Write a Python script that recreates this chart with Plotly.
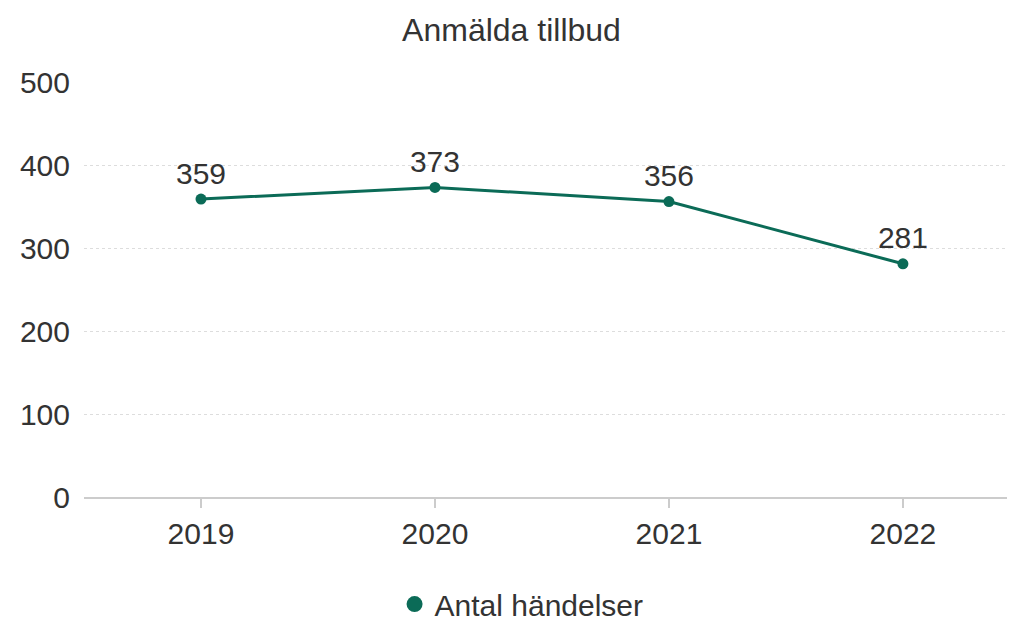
import plotly.graph_objects as go

years = ["2019", "2020", "2021", "2022"]
values = [359, 373, 356, 281]
series_name = "Antal händelser"
title = "Anmälda tillbud"
y_ticks = [0, 100, 200, 300, 400, 500]

green = "#0b6b57"
font = "Liberation Sans, Arial, sans-serif"
fs = 30

fig = go.Figure()
fig.add_trace(go.Scatter(
    x=list(range(len(years))), y=values, name=series_name,
    mode="lines+markers+text", showlegend=False,
    line=dict(color=green, width=3),
    marker=dict(color=green, size=11),
    text=[str(v) for v in values], textposition="top center",
    textfont=dict(size=fs, color="#333333", family=font),
    cliponaxis=False,
))
# legend entry (marker only)
fig.add_trace(go.Scatter(
    x=[None], y=[None], name=series_name, mode="markers",
    marker=dict(color=green, size=16), showlegend=True,
))

fig.update_layout(
    width=1007, height=617,
    margin=dict(l=76, r=0, t=74, b=128, autoexpand=False),
    paper_bgcolor="white", plot_bgcolor="white",
    font=dict(family=font, color="#333333", size=fs),
    title=dict(text=title, x=0.5, xanchor="center", y=1 - 22 / 617, yanchor="middle",
               font=dict(size=32, color="#333333"), automargin=False),
    showlegend=True,
    legend=dict(orientation="h", x=0.47, xanchor="center", y=-0.258, yanchor="middle",
                font=dict(size=fs, color="#333333"), itemsizing="trace"),
    xaxis=dict(
        tickmode="array", tickvals=list(range(len(years))), ticktext=years,
        range=[-0.5, 3.479], showgrid=False, zeroline=False,
        showline=True, linecolor="#cccccc", linewidth=1.5,
        ticks="outside", ticklen=9, tickcolor="#cccccc", tickwidth=1.5,
        tickfont=dict(size=fs, color="#333333"), automargin=False,
    ),
    yaxis=dict(
        range=[0, 500], tickvals=y_ticks, showgrid=True,
        gridcolor="#dddddd", griddash="dot", gridwidth=1,
        zeroline=False, showline=False, ticks="",
        ticklabelstandoff=13, automargin=False,
        tickfont=dict(size=fs, color="#333333"),
    ),
)

fig.write_html("out.html")
